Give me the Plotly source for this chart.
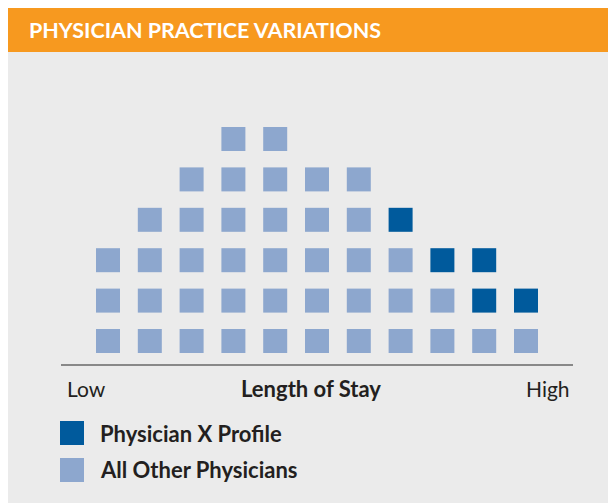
import plotly.graph_objects as go

# ---- data ----
bins = list(range(1, 12))                 # length-of-stay bins, low -> high
other_counts = [3, 4, 5, 6, 6, 5, 5, 3, 2, 1, 1]
physx_counts = [0, 0, 0, 0, 0, 0, 0, 1, 1, 2, 1]
title_text = "PHYSICIAN PRACTICE VARIATIONS"
axis_low, axis_mid, axis_high = "Low", "Length of Stay", "High"
legend_labels = ["Physician X Profile", "All Other Physicians"]

# ---- style ----
W, H = 616, 503
OFF = 8  # page body margin
# plot area in figure pixels
PL, PR, PT, PB = 61 - OFF, 573 - OFF, 60 - OFF, 364 - OFF
L, R, T, B = PL, W - PR, PT, H - PB
ORANGE = "#f7991f"
BG = "#ebebeb"
LIGHT = "#8da7ce"
DARK = "#005a9c"
FONT = "Lato"
TXT = "#231f20"

pw, ph = PR - PL, PB - PT
def fx(px):  # reference-page pixel -> paper
    return (px - OFF - PL) / pw
def fy(py):
    return (PB - (py - OFF)) / ph

# build unit squares from counts
ox, oy, dx, dy = [], [], [], []
for b, o, d in zip(bins, other_counts, physx_counts):
    for r in range(1, o + 1):
        ox.append(b); oy.append(r)
    for r in range(o + 1, o + d + 1):
        dx.append(b); dy.append(r)

fig = go.Figure()
fig.add_trace(go.Scatter(x=ox, y=oy, mode="markers", name=legend_labels[1],
                         marker=dict(symbol="square", size=24, color=LIGHT, line=dict(width=0)),
                         cliponaxis=False, hoverinfo="skip"))
fig.add_trace(go.Scatter(x=dx, y=dy, mode="markers", name=legend_labels[0],
                         marker=dict(symbol="square", size=24, color=DARK, line=dict(width=0)),
                         cliponaxis=False, hoverinfo="skip"))

shapes = [
    # orange header
    dict(type="rect", xref="paper", yref="paper", x0=fx(OFF), x1=fx(W + OFF), y0=fy(OFF), y1=fy(52),
         fillcolor=ORANGE, line=dict(width=0), layer="below"),
    # legend swatches
    dict(type="rect", xref="paper", yref="paper", x0=fx(60), x1=fx(84), y0=fy(421), y1=fy(445),
         fillcolor=DARK, line=dict(width=0)),
    dict(type="rect", xref="paper", yref="paper", x0=fx(60), x1=fx(84), y0=fy(458), y1=fy(482),
         fillcolor=LIGHT, line=dict(width=0)),
]

def ann(text, x, y, xanchor, size, color=TXT, bold=False):
    return dict(text=text, xref="paper", yref="paper", x=fx(x), y=fy(y),
                xanchor=xanchor, yanchor="middle", showarrow=False,
                font=dict(family=FONT, size=size, color=color,
                          weight="bold" if bold else "normal"))

annotations = [
    ann(title_text, 27, 30, "left", 21.5, color="white", bold=True),
    ann(axis_low, 65, 388, "left", 21),
    ann(axis_mid, 311, 388, "center", 22, bold=True),
    ann(axis_high, 572, 388, "right", 21),
    ann(legend_labels[0], 98, 433, "left", 22, bold=True),
    ann(legend_labels[1], 98, 469, "left", 22, bold=True),
]

# data ranges so that bin 1 sits at x=108 and row 1 at y=341 on the reference page
x_lo = 1 + (PL + OFF - 108) / 41.8
x_hi = 1 + (PR + OFF - 108) / 41.8
y_lo = 1 + (341 - (PB + OFF)) / 40.4
y_hi = 1 + (341 - (PT + OFF)) / 40.4

fig.update_layout(
    width=W, height=H,
    margin=dict(l=L, r=R, t=T, b=B),
    paper_bgcolor=BG, plot_bgcolor=BG,
    showlegend=False,
    shapes=shapes, annotations=annotations,
    xaxis=dict(range=[x_lo, x_hi], showgrid=False, zeroline=False, showticklabels=False,
               ticks="", showline=True, linecolor="#888888", linewidth=2, fixedrange=True),
    yaxis=dict(range=[y_lo, y_hi], showgrid=False, zeroline=False, showticklabels=False,
               ticks="", showline=False, fixedrange=True),
)

fig.write_html("out.html")
